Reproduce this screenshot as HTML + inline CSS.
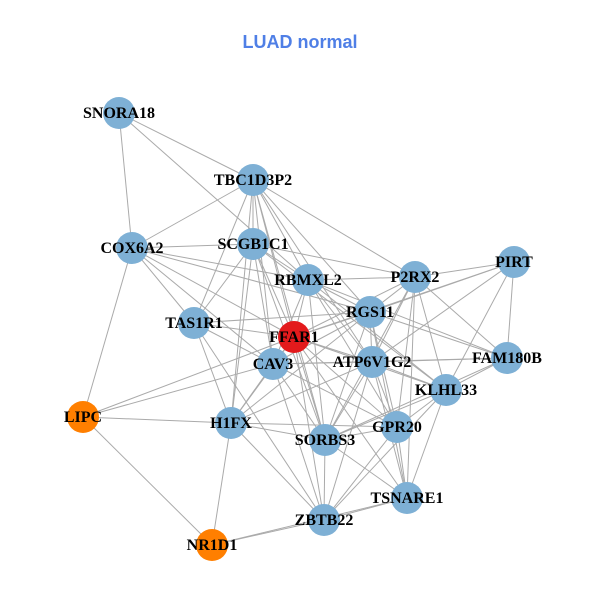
<!DOCTYPE html>
<html><head><meta charset="utf-8"><style>body{margin:0;background:#fff}svg{display:block}</style></head><body>
<svg width="600" height="600" viewBox="0 0 600 600" xmlns="http://www.w3.org/2000/svg">
<rect width="600" height="600" fill="#fff"/>
<text x="300" y="48" text-anchor="middle" font-family="Liberation Sans, sans-serif" font-weight="bold" font-size="18" fill="#4f7fe6">LUAD normal</text>
<g id="e" stroke="#aaaaaa" stroke-width="1"></g>
<g id="n"></g>
<script>
const N={SNORA18:[119,113],TBC1D3P2:[253,180],COX6A2:[132,248],SCGB1C1:[253,244],RBMXL2:[308,280],P2RX2:[415,277],PIRT:[514,262],RGS11:[370,312],TAS1R1:[194,323],FFAR1:[294,337],CAV3:[273,364],ATP6V1G2:[372,362],FAM180B:[507,358],KLHL33:[446,390],LIPC:[83,417],H1FX:[231,423],GPR20:[397,427],SORBS3:[325,440],TSNARE1:[407,498],ZBTB22:[324,520],NR1D1:[212,545]};
const E={SNORA18:"TBC1D3P2 COX6A2 RBMXL2",TBC1D3P2:"COX6A2 SCGB1C1 TAS1R1 RBMXL2 FFAR1 CAV3 RGS11 P2RX2 ATP6V1G2 H1FX SORBS3",COX6A2:"SCGB1C1 RBMXL2 TAS1R1 FFAR1 CAV3 LIPC RGS11",SCGB1C1:"TAS1R1 RBMXL2 P2RX2 FFAR1 CAV3 SORBS3 H1FX KLHL33",TAS1R1:"RGS11 FFAR1 CAV3 H1FX ZBTB22",RBMXL2:"P2RX2 RGS11 FFAR1 CAV3 ATP6V1G2 KLHL33 GPR20 SORBS3 FAM180B",P2RX2:"PIRT RGS11 FFAR1 KLHL33 GPR20 TSNARE1 ATP6V1G2 SORBS3 FAM180B",PIRT:"RGS11 FFAR1 FAM180B KLHL33 ATP6V1G2",RGS11:"FFAR1 ATP6V1G2 FAM180B GPR20 SORBS3 TSNARE1 CAV3 H1FX",FFAR1:"ATP6V1G2 CAV3 KLHL33 GPR20 SORBS3 ZBTB22 H1FX TSNARE1 LIPC",CAV3:"ATP6V1G2 H1FX SORBS3 ZBTB22 GPR20 FAM180B LIPC",ATP6V1G2:"FAM180B KLHL33 SORBS3 GPR20 TSNARE1 ZBTB22 H1FX",FAM180B:"KLHL33 SORBS3",KLHL33:"GPR20 SORBS3 TSNARE1 ZBTB22",LIPC:"H1FX NR1D1",H1FX:"SORBS3 NR1D1 ZBTB22 GPR20",GPR20:"SORBS3 TSNARE1 ZBTB22",SORBS3:"ZBTB22 TSNARE1",TSNARE1:"ZBTB22 NR1D1",ZBTB22:"NR1D1"};
const ns="http://www.w3.org/2000/svg",eg=document.getElementById("e"),ng=document.getElementById("n");
for(const a in E)for(const b of E[a].split(" ")){const l=document.createElementNS(ns,"line");l.setAttribute("x1",N[a][0]);l.setAttribute("y1",N[a][1]);l.setAttribute("x2",N[b][0]);l.setAttribute("y2",N[b][1]);eg.appendChild(l);}
for(const k in N){const c=document.createElementNS(ns,"circle");c.setAttribute("cx",N[k][0]);c.setAttribute("cy",N[k][1]);c.setAttribute("r",16);c.setAttribute("fill",k=="FFAR1"?"#e31a1c":(k=="LIPC"||k=="NR1D1")?"#ff7f00":"#7eb0d5");ng.appendChild(c);}
for(const k in N){const t=document.createElementNS(ns,"text");t.setAttribute("x",N[k][0]);t.setAttribute("y",N[k][1]+5);t.setAttribute("text-anchor","middle");t.setAttribute("font-family","Liberation Serif, serif");t.setAttribute("font-weight","bold");t.setAttribute("font-size","16");t.textContent=k;ng.appendChild(t);}
</script>
</svg>
</body></html>
